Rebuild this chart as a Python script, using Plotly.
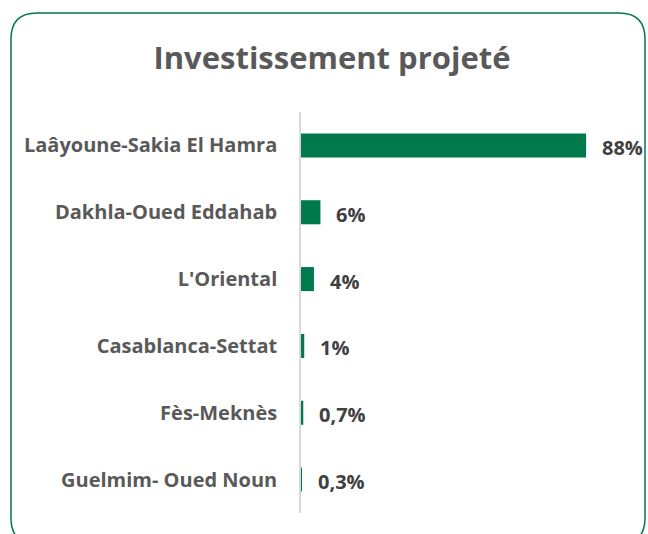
import plotly.graph_objects as go

regions = [
    "Laâyoune-Sakia El Hamra",
    "Dakhla-Oued Eddahab",
    "L'Oriental",
    "Casablanca-Settat",
    "Fès-Meknès",
    "Guelmim- Oued Noun",
]
shares = [88, 6, 4, 1, 0.7, 0.3]
share_labels = ["88%", "6%", "4%", "1%", "0,7%", "0,3%"]

W, H = 648, 534
M = dict(l=301, r=23, t=112, b=21)
GREEN = "#007A4D"
FONT = "Open Sans, sans-serif"


def _px(x):
    return (x - M["l"]) / (W - M["l"] - M["r"])


def _py(y):
    return (H - M["b"] - y) / (H - M["t"] - M["b"])


def _rounded_box(x0, y0, x1, y1, r):
    return (
        f"M {_px(x0 + r)},{_py(y0)} L {_px(x1 - r)},{_py(y0)} "
        f"Q {_px(x1)},{_py(y0)} {_px(x1)},{_py(y0 + r)} "
        f"L {_px(x1)},{_py(y1 - r)} Q {_px(x1)},{_py(y1)} {_px(x1 - r)},{_py(y1)} "
        f"L {_px(x0 + r)},{_py(y1)} Q {_px(x0)},{_py(y1)} {_px(x0)},{_py(y1 - r)} "
        f"L {_px(x0)},{_py(y0 + r)} Q {_px(x0)},{_py(y0)} {_px(x0 + r)},{_py(y0)} Z"
    )


fig = go.Figure(
    go.Bar(
        x=shares,
        y=regions,
        orientation="h",
        marker=dict(color=GREEN, line=dict(width=0)),
        hoverinfo="skip",
    )
)

for region, val, lab in zip(regions, shares, share_labels):
    fig.add_annotation(
        x=val, y=region, text=f"<b>{lab}</b>", showarrow=False,
        xanchor="left", xshift=14, yshift=-2,
        font=dict(family=FONT, size=20, color="#404040"),
    )

# card border, its bottom edge runs just past the visible area
fig.add_shape(
    type="path", xref="paper", yref="paper",
    path=_rounded_box(11, 13, 645, 544, 26),
    line=dict(color=GREEN, width=1.5), layer="above",
)

fig.update_xaxes(range=[0, 100], visible=False, fixedrange=True)
fig.update_yaxes(
    categoryorder="array", categoryarray=regions, autorange="reversed",
    showline=True, linecolor="#D9D9D9", linewidth=1.5, showgrid=False,
    ticks="", ticklabelstandoff=18,
    tickfont=dict(family=FONT, size=20, color="#595959", weight="bold"),
)
fig.update_layout(
    width=W, height=H, margin=M,
    bargap=0.64,
    plot_bgcolor="white", paper_bgcolor="white",
    showlegend=False,
    title=dict(
        text="<b>Investissement projeté</b>", x=332 / W, xanchor="center",
        y=1 - 58 / H, yanchor="middle", xref="container", yref="container",
        font=dict(family=FONT, size=31, color="#595959"),
    ),
)

# drop the page's default body margin so the figure fills the window
fig.write_html(
    "out.html",
    config={"displayModeBar": False},
    post_script="document.body.style.margin='0';document.body.style.overflow='hidden';",
)
